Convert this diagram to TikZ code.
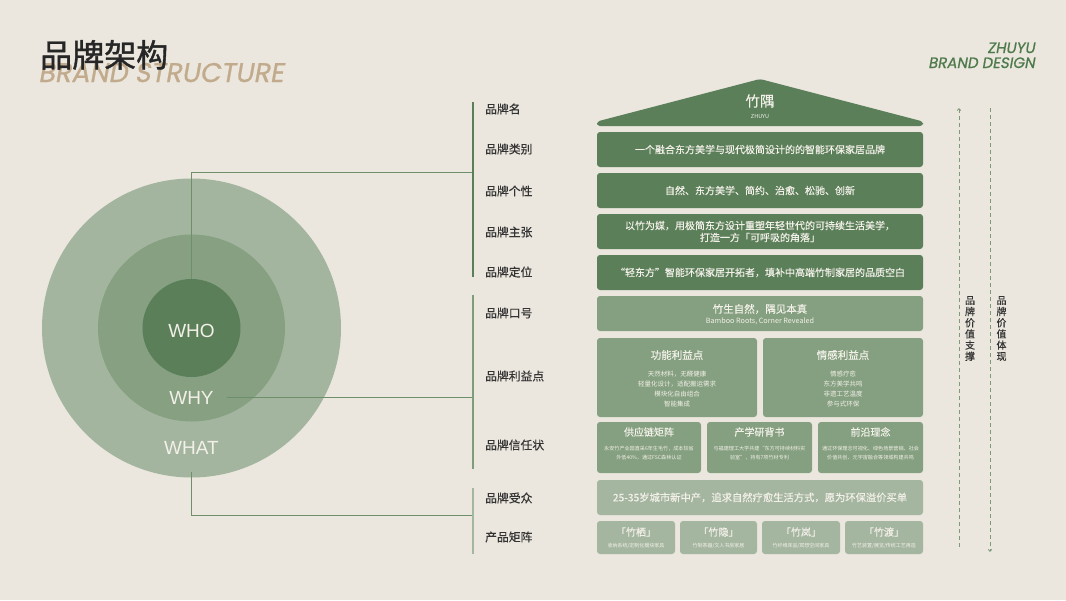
\documentclass[tikz,border=0pt]{standalone}
\usepackage{fontspec}
\setmainfont{Noto Sans CJK SC}
\newfontfamily\cjkm[FakeBold=0.3]{Noto Sans CJK SC}
\newfontfamily\cjkt[FakeBold=1.2]{Noto Sans CJK SC}
\newfontfamily\pop[FakeSlant=0.18,FakeBold=0.8]{Poppins}
\newfontfamily\lsans{Liberation Sans}
\usetikzlibrary{arrows.meta}
\definecolor{bg}{HTML}{EBE7DE}
\definecolor{dgreen}{HTML}{5B7F59}
\definecolor{mgreen}{HTML}{85A080}
\definecolor{lgreen}{HTML}{A5B6A0}
\definecolor{c1}{HTML}{A4B59F}
\definecolor{c2}{HTML}{86A081}
\definecolor{c3}{HTML}{5B7F59}
\definecolor{boxtxt}{HTML}{F2F0E8}
\definecolor{labtxt}{HTML}{333333}
\definecolor{conncol}{HTML}{6D8F6A}
\definecolor{dashcol}{HTML}{7E9A7B}
\definecolor{tan}{HTML}{C2AB8C}
\definecolor{titlecol}{HTML}{262626}
\definecolor{zgreen}{HTML}{4E7A4B}
\definecolor{bar2}{HTML}{7F9C7B}
\newcommand\fsz[2]{\fontsize{#1}{#2}\selectfont}
\begin{document}
\begin{tikzpicture}[x=1pt,y=-1pt,
 box/.style={rounded corners=3pt, inner sep=0pt, text=boxtxt, align=center},
 dk/.style={box, fill=dgreen},
 md/.style={box, fill=mgreen},
 lt/.style={box, fill=lgreen},
 lab/.style={anchor=west, text=labtxt, font=\cjkm\fsz{11.8}{14}, inner sep=0pt},
 conn/.style={draw=conncol, line width=1pt},
 dline/.style={draw=dashcol, line width=0.8pt, dash pattern=on 4pt off 3pt},
 txt/.style={inner sep=0pt, text=boxtxt, align=center},
 ctext/.style={inner sep=0pt, text=boxtxt, font=\lsans\fsz{19}{22}},
 vtext/.style={inner sep=0pt, text=labtxt, align=center, font=\cjkm\fsz{10}{11.2}},
 circ/.style={circle, inner sep=0pt},
]
\useasboundingbox (0,0) rectangle (1066,600);
\fill[bg] (0,0) rectangle (1066,600);

% titles
\node[anchor=base west, inner sep=0pt, text=tan, font=\pop\fsz{27}{30}] (en) at (38,82) {BRAND STRUCTURE};
\node[anchor=base west, inner sep=0pt, text=titlecol, font=\cjkt\fsz{32}{36}] (cn) at (40,67) {品牌架构};
\node[anchor=base east, inner sep=0pt, text=zgreen, font=\pop\fsz{15}{17}] (z1) at (1035,53) {ZHUYU};
\node[anchor=base east, inner sep=0pt, text=zgreen, font=\pop\fsz{15}{17}] (z2) at (1035,68) {BRAND DESIGN};

% circles
\node[circ, fill=c1, minimum size=299pt] (outer) at (191.5,328) {};
\node[circ, fill=c2, minimum size=187pt] (mid) at (191.5,328) {};
\node[circ, fill=c3, minimum size=98pt] (inner) at (191.5,328) {};
\node[ctext] (who) at (191.5,331) {WHO};
\node[ctext, inner xsep=13pt, inner ysep=0pt] (why) at (191.5,397.5) {WHY};
\node[ctext, inner xsep=0pt, inner ysep=17pt] (what) at (191.5,448) {WHAT};

% connectors
\coordinate (j1) at (473,172);
\coordinate (j2) at (473,398);
\coordinate (j3) at (473,515.5);
\draw[conn] (inner.north) |- (j1);
\draw[conn] (why.east) -- (why.east -| j2);
\draw[conn] (what.south) |- (j3);

% bars
\fill[dgreen] (471.6,102) rectangle (474.4,277);
\fill[bar2] (471.6,295) rectangle (474.4,469);
\fill[lgreen] (471.6,488) rectangle (474.4,554);

% labels
\node[lab] (l1) at (485,109) {品牌名};
\node[lab] (l2) at (485,149) {品牌类别};
\node[lab] (l3) at (485,191) {品牌个性};
\node[lab] (l4) at (485,232) {品牌主张};
\node[lab] (l5) at (485,272) {品牌定位};
\node[lab] (l6) at (485,313) {品牌口号};
\node[lab] (l7) at (485,376) {品牌利益点};
\node[lab] (l8) at (485,445) {品牌信任状};
\node[lab] (l9) at (485,498) {品牌受众};
\node[lab] (l10) at (485,537) {产品矩阵};

% roof
\fill[dgreen, rounded corners=3pt] (597,126) -- (597,121.5) -- (760,79) -- (923,121.5) -- (923,126) -- cycle;
\node[txt, font=\cjkm\fsz{14.5}{16}] (roofname) at (760,101) {竹隅};
\node[txt, font=\fsz{5.5}{6}] (roofen) at (760,116.5) {ZHUYU};

% rows
\node[dk, minimum width=326pt, minimum height=35pt, font=\cjkm\fsz{10}{12}] (r1) at (760,149.5) {一个融合东方美学与现代极简设计的的智能环保家居品牌};
\node[dk, minimum width=326pt, minimum height=35pt, font=\cjkm\fsz{10}{12}] (r2) at (760,190.5) {自然、东方美学、简约、治愈、松驰、创新};
\node[dk, minimum width=326pt, minimum height=35pt, font=\cjkm\fsz{10}{12}] (r3) at (760,231.5) {以竹为媒，用极简东方设计重塑年轻世代的可持续生活美学，\\打造一方「可呼吸的角落」};
\node[dk, minimum width=326pt, minimum height=35pt, font=\cjkm\fsz{10}{12}] (r4) at (760,272.5) {“轻东方”智能环保家居开拓者，填补中高端竹制家居的品质空白};

% slogan
\node[md, minimum width=326pt, minimum height=35pt] (slogan) at (760,313.5) {};
\node[txt, font=\cjkm\fsz{10.5}{12}] (sl1) at (760,309) {竹生自然，隅见本真};
\node[txt, font=\fsz{7.2}{8}] (sl2) at (760,321) {Bamboo Roots, Corner Revealed};

% benefits
\node[md, minimum width=160pt, minimum height=79pt] (bf1) at (677,377.5) {};
\node[md, minimum width=160pt, minimum height=79pt] (bf2) at (843,377.5) {};
\node[txt, font=\cjkm\fsz{10.5}{12}] (bf1t) at (677,355) {功能利益点};
\node[txt, font=\cjkm\fsz{10.5}{12}] (bf2t) at (843,355) {情感利益点};
\node[txt, font=\fsz{6.5}{10}] (bf1b) at (677,389) {天然材料，无醛健康\\轻量化设计，适配搬运需求\\模块化自由组合\\智能集成};
\node[txt, font=\fsz{6.5}{10}] (bf2b) at (843,389) {情感疗愈\\东方美学共鸣\\非遗工艺温度\\参与式环保};

% trust
\node[md, minimum width=104pt, minimum height=51pt] (tr1) at (649,447.5) {};
\node[md, minimum width=105pt, minimum height=51pt] (tr2) at (759.5,447.5) {};
\node[md, minimum width=105pt, minimum height=51pt] (tr3) at (870.5,447.5) {};
\node[txt, font=\cjkm\fsz{10}{12}] (tr1t) at (649,432) {供应链矩阵};
\node[txt, font=\cjkm\fsz{10}{12}] (tr2t) at (759.5,432) {产学研背书};
\node[txt, font=\cjkm\fsz{10}{12}] (tr3t) at (870.5,432) {前沿理念};
\node[txt, font=\fsz{5.1}{9}] (tr1b) at (649,452.8) {永安竹产业园直采6年生毛竹，成本较省\\外低40\%，通过FSC森林认证};
\node[txt, font=\fsz{5.1}{9}] (tr2b) at (759.5,452.8) {与福建理工大学共建“东方可持续材料实\\验室”，持有7项竹材专利};
\node[txt, font=\fsz{5.1}{9}] (tr3b) at (870.5,452.8) {通过环保理念可视化、绿色场景营销、社会\\价值共创、元宇宙融合等领域构建共鸣};

% audience
\node[lt, minimum width=326pt, minimum height=35pt, font=\cjkm\fsz{10.3}{12}] (aud) at (760,497.5) {25-35岁城市新中产，追求自然疗愈生活方式，愿为环保溢价买单};

% products
\node[lt, minimum width=78pt, minimum height=33pt] (p1) at (636,537.5) {};
\node[lt, minimum width=77pt, minimum height=33pt] (p2) at (718.5,537.5) {};
\node[lt, minimum width=78pt, minimum height=33pt] (p3) at (801,537.5) {};
\node[lt, minimum width=78pt, minimum height=33pt] (p4) at (884,537.5) {};
\node[txt, font=\cjkm\fsz{10}{12}] (p1t) at (636,532) {「竹栖」};
\node[txt, font=\cjkm\fsz{10}{12}] (p2t) at (718.5,532) {「竹隐」};
\node[txt, font=\cjkm\fsz{10}{12}] (p3t) at (801,532) {「竹岚」};
\node[txt, font=\cjkm\fsz{10}{12}] (p4t) at (884,532) {「竹渡」};
\node[txt, font=\fsz{5}{6}] (p1b) at (636,546) {收纳系统/定制化模块家具};
\node[txt, font=\fsz{5}{6}] (p2b) at (718.5,546) {竹制茶器/文人书房家居};
\node[txt, font=\fsz{5}{6}] (p3b) at (801,546) {竹纤维床品/冥想空间家具};
\node[txt, font=\fsz{5}{6}] (p4b) at (884,546) {竹艺装置/展览/传统工艺再造};

% right dashed lines
\coordinate (s1) at (959,108);
\coordinate (s2) at (959,550);
\coordinate (t1) at (990,108);
\coordinate (t2) at (990,552);
\draw[dline, {Straight Barb[length=2pt,width=3.5pt]}-] (s1) -- (s2);
\draw[dline, -{Straight Barb[length=2pt,width=3.5pt]}] (t1) -- (t2);
\node[vtext] (v1) at (970,328.5) {品\\牌\\价\\值\\支\\撑};
\node[vtext] (v2) at (1001.5,328.5) {品\\牌\\价\\值\\体\\现};
\end{tikzpicture}
\end{document}
